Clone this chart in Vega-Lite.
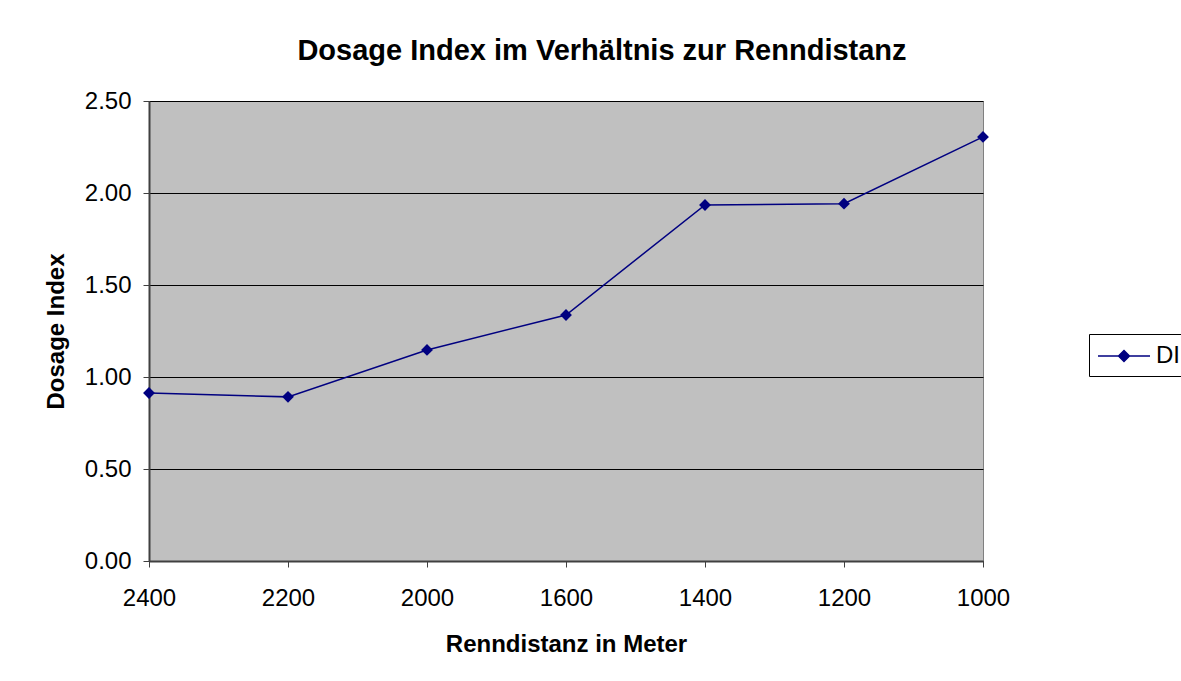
{
  "$schema": "https://vega.github.io/schema/vega-lite/v6.json",
  "autosize": "none",
  "width": 834,
  "height": 460,
  "padding": {"left": 149, "top": 101, "right": 198, "bottom": 120},
  "background": "white",
  "title": {
    "text": "Dosage Index im Verhältnis zur Renndistanz",
    "font": "Liberation Sans",
    "fontSize": 29,
    "fontWeight": "bold",
    "color": "black",
    "offset": 23,
    "anchor": "middle",
    "dx": 36
  },
  "config": {
    "view": {"fill": "#C0C0C0", "stroke": "#808080", "strokeWidth": 1},
    "axis": {
      "labelFont": "Liberation Sans",
      "titleFont": "Liberation Sans",
      "labelFontSize": 24,
      "titleFontSize": 24,
      "titleFontWeight": "bold",
      "labelColor": "black",
      "titleColor": "black",
      "domainColor": "#404040",
      "domainWidth": 2,
      "tickColor": "#404040",
      "tickSize": 6
    }
  },
  "data": {
    "values": [
      {"distanz": "2400", "di": 0.913, "serie": "DI"},
      {"distanz": "2200", "di": 0.892, "serie": "DI"},
      {"distanz": "2000", "di": 1.147, "serie": "DI"},
      {"distanz": "1600", "di": 1.337, "serie": "DI"},
      {"distanz": "1400", "di": 1.935, "serie": "DI"},
      {"distanz": "1200", "di": 1.942, "serie": "DI"},
      {"distanz": "1000", "di": 2.305, "serie": "DI"}
    ]
  },
  "encoding": {
    "x": {
      "field": "distanz",
      "type": "ordinal",
      "sort": null,
      "scale": {"type": "point", "padding": 0},
      "axis": {
        "title": "Renndistanz in Meter",
        "labelAngle": 0,
        "labelPadding": 19,
        "titlePadding": 22,
        "grid": false
      }
    },
    "y": {
      "field": "di",
      "type": "quantitative",
      "scale": {"domain": [0, 2.5], "nice": false},
      "axis": {
        "title": "Dosage Index",
        "values": [0, 0.5, 1, 1.5, 2, 2.5],
        "format": ".2f",
        "grid": true,
        "gridColor": "black",
        "gridWidth": 1,
        "gridOpacity": 1,
        "labelPadding": 12,
        "titlePadding": 16
      }
    },
    "color": {
      "field": "serie",
      "type": "nominal",
      "scale": {"range": ["#000080"]},
      "legend": {
        "title": null,
        "orient": "none",
        "legendX": 940,
        "legendY": 233,
        "labelFont": "Liberation Sans",
        "labelFontSize": 24,
        "labelColor": "black",
        "labelOffset": 31,
        "symbolType": "M-1,0L3,0M1,-0.42L1.42,0L1,0.42L0.58,0Z",
        "symbolSize": 676,
        "symbolStrokeWidth": 1.5,
        "symbolFillColor": "#000080",
        "strokeColor": "black",
        "padding": 8,
        "fillColor": "white"
      }
    }
  },
  "layer": [
    {"mark": {"type": "line", "strokeWidth": 1.5}},
    {"mark": {"type": "point", "shape": "diamond", "filled": true, "size": 140, "opacity": 1}}
  ]
}
